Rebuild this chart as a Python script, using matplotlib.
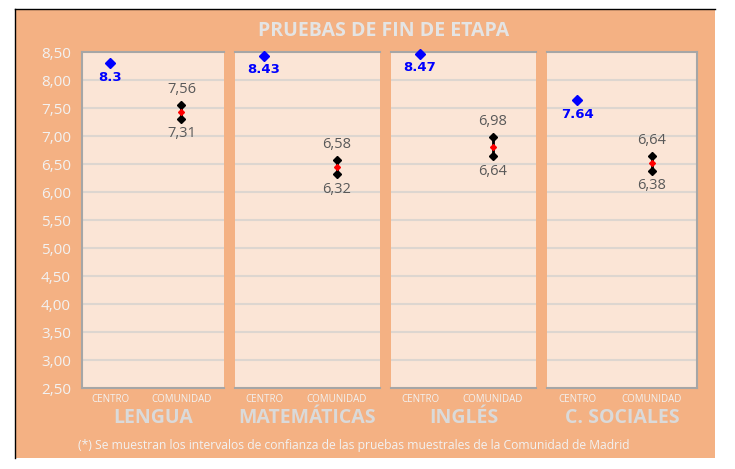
import matplotlib.pyplot as plt
from matplotlib.patches import Rectangle
from matplotlib.lines import Line2D

plt.rcParams['font.family'] = ['Open Sans', 'DejaVu Sans']

# data
subjects = ['LENGUA', 'MATEMÁTICAS', 'INGLÉS', 'C. SOCIALES']
centro = [8.3, 8.43, 8.47, 7.64]
comunidad_low = [7.31, 6.32, 6.64, 6.38]
comunidad_high = [7.56, 6.58, 6.98, 6.64]
categories = ['CENTRO', 'COMUNIDAD']
yticks = [2.5, 3.0, 3.5, 4.0, 4.5, 5.0, 5.5, 6.0, 6.5, 7.0, 7.5, 8.0, 8.5]

W, H = 735, 469
orange = '#f4b183'
panel_bg = '#fbe5d6'
light = '#f2f2f2'
grey_txt = '#dadada'

fig = plt.figure(figsize=(W / 100, H / 100), dpi=100)
fig.patch.set_facecolor('white')

# orange frame of the chart with black top/left edge
fig.patches.append(Rectangle((15 / W, 1 - 458 / H), 700 / W, 449 / H,
                             transform=fig.transFigure, facecolor=orange,
                             edgecolor='none', zorder=-5))
fig.lines.append(Line2D([15 / W, 715 / W], [1 - 9 / H, 1 - 9 / H],
                        transform=fig.transFigure, color='black', lw=1, zorder=-4))
fig.lines.append(Line2D([15 / W, 15 / W], [1 - 9 / H, 1 - 458 / H],
                        transform=fig.transFigure, color='black', lw=1, zorder=-4))

panels_x = [(82, 224), (235, 380), (391, 536), (547, 697)]
top_px, bot_px = 52, 388

for i, (x0, x1) in enumerate(panels_x):
    ax = fig.add_axes([x0 / W, 1 - bot_px / H, (x1 - x0) / W, (bot_px - top_px) / H])
    ax.set_facecolor(panel_bg)
    ax.set_xlim(-0.4, 1.6)
    ax.set_ylim(2.5, 8.5)
    ax.set_yticks(yticks)
    for y in yticks[1:-1]:
        ax.axhline(y, color='#ddd6d0', lw=1.5, zorder=1)
    for s in ['top', 'left', 'bottom', 'right']:
        ax.spines[s].set_color('#a6a6a6')
        ax.spines[s].set_linewidth(1.5)
    if i != 0:
        ax.spines['left'].set_visible(False)
    if i != 3:
        ax.spines['right'].set_visible(False)
    if i == 0:
        ax.set_yticklabels([('%.2f' % v).replace('.', ',') for v in yticks],
                           color=light, fontsize=11)
    else:
        ax.set_yticklabels([])
    ax.tick_params(axis='y', length=0, pad=8)
    ax.set_xticks([0, 1])
    ax.set_xticklabels(categories, fontsize=7, color=light)
    ax.tick_params(axis='x', length=0, pad=4)

    # centro point
    ax.plot(0, centro[i], marker='D', color='#0000ff', markersize=5, zorder=5,
            clip_on=False)
    ax.annotate(str(centro[i]), (0, centro[i]), xytext=(0, -10),
                textcoords='offset points', ha='center', va='center',
                color='#0000ff', fontsize=9.5, fontweight='bold',
                family=['DejaVu Sans'])

    # comunidad interval
    lo, hi = comunidad_low[i], comunidad_high[i]
    ax.plot([1, 1], [lo, hi], color='black', lw=2, zorder=4)
    ax.plot([1, 1], [lo, hi], 'D', color='black', markersize=4.5, zorder=5)
    ax.plot(1, (lo + hi) / 2, 'D', color='red', markersize=3, zorder=6)
    ax.annotate(('%.2f' % hi).replace('.', ','), (1, hi), xytext=(0, 11),
                textcoords='offset points', ha='center', va='center',
                color='#595959', fontsize=10.5)
    ax.annotate(('%.2f' % lo).replace('.', ','), (1, lo), xytext=(0, -11),
                textcoords='offset points', ha='center', va='center',
                color='#595959', fontsize=10.5)

    ax.text(0.5, -0.088, subjects[i], transform=ax.transAxes, ha='center',
            va='center', fontsize=14, fontweight='bold', color=grey_txt)

fig.text(384 / W, 1 - 31 / H, 'PRUEBAS DE FIN DE ETAPA', ha='center', va='center',
         fontsize=14, fontweight='bold', color='#e4e4e4')
fig.text(354 / W, 1 - 445 / H,
         '(*) Se muestran los intervalos de confianza de las pruebas muestrales de la Comunidad de Madrid',
         ha='center', va='center', fontsize=8.75, color=light)

fig.savefig('out.png', dpi=100, facecolor='white')
plt.close()
